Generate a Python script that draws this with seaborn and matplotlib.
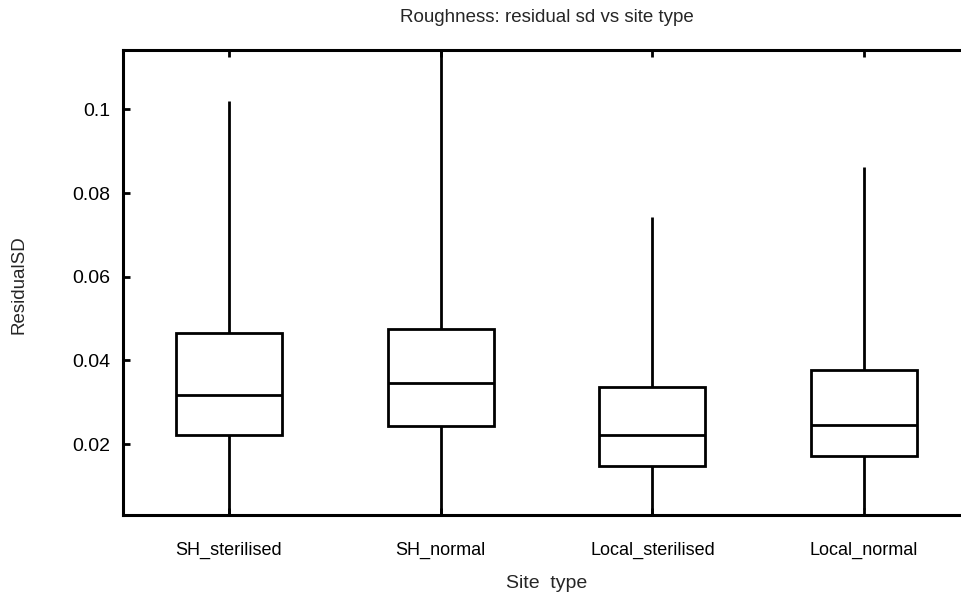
import numpy as np
import pandas as pd
import matplotlib
matplotlib.use("Agg")
import matplotlib.pyplot as plt
import seaborn as sns

# Five-number summaries: [min, Q1, median, Q3, max]
categories = ["SH_sterilised", "SH_normal", "Local_sterilised", "Local_normal"]
sh_sterilised = [0.0010, 0.0222, 0.0317, 0.0466, 0.1021]
sh_normal = [0.0010, 0.0243, 0.0345, 0.0474, 0.1300]
local_sterilised = [0.0010, 0.0148, 0.0221, 0.0337, 0.0743]
local_normal = [0.0045, 0.0172, 0.0245, 0.0377, 0.0862]
y_ticks = [0.02, 0.04, 0.06, 0.08, 0.1]
y_tick_labels = ["0.02", "0.04", "0.06", "0.08", "0.1"]

values = [sh_sterilised, sh_normal, local_sterilised, local_normal]
df = pd.DataFrame({
    "Site type": np.repeat(categories, [len(v) for v in values]),
    "ResidualSD": np.concatenate(values),
})

sns.set_style("ticks")
plt.rcParams["font.family"] = ["Liberation Sans", "DejaVu Sans"]

fig = plt.figure(figsize=(9.62, 5.94), dpi=100)
ax = fig.add_axes([0.1279, 0.1338, 0.8804, 0.7820])

sns.boxplot(data=df, x="Site type", y="ResidualSD", order=categories,
            whis=(0, 100), width=0.5, color="white", linecolor="black",
            linewidth=2, ax=ax, showfliers=False, showcaps=False)

ax.set_xlim(-0.5, 3.5)
ax.set_ylim(0.00315, 0.1142)
ax.set_yticks(y_ticks)
ax.set_yticklabels(y_tick_labels)

for s in ["left", "top", "bottom", "right"]:
    ax.spines[s].set_linewidth(2.2)
    ax.spines[s].set_color("black")
    ax.spines[s].set_visible(True)

ax.tick_params(axis="y", direction="in", length=5, width=2, labelsize=14, pad=9, colors="black")
ax.tick_params(axis="x", direction="in", length=5, width=2, labelsize=13, pad=20,
               top=True, bottom=True, colors="black")

ax.set_xlabel("Site  type", fontsize=14, labelpad=11)
ax.set_ylabel("ResidualSD", fontsize=13.5)
ax.yaxis.set_label_coords(-0.1125, 0.496)
ax.set_title("Roughness: residual sd vs site type", fontsize=13.5, pad=20)

fig.savefig("out.png", dpi=100, facecolor="white")
